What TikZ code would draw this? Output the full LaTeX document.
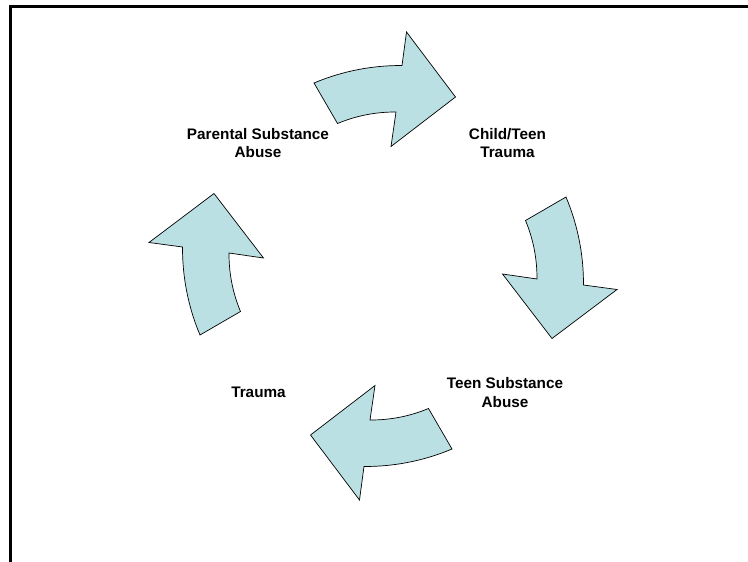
\documentclass[tikz,border=0pt]{standalone}
\usepackage{fontspec}
\setmainfont{Liberation Sans}
\definecolor{arrowfill}{RGB}{187,224,227}
\tikzset{
  cyclearrow/.style={draw=black, line width=0.7pt, fill=arrowfill, line join=miter},
  label/.style={inner sep=0pt, align=center, font=\bfseries\fontsize{15.3}{18.5}\selectfont},
  frameline/.style={draw=black, line width=2.6pt}
}
\newcommand{\cyclearrowpath}{%
  (-69,-183) .. controls (-40.9,-194.8) and (-11.5,-200.6) .. (19,-200.5)
  -- (23.5,-234) -- (72.5,-169) -- (8,-119.5) -- (13,-154)
  .. controls (-7.3,-154.1) and (-26.8,-150.3) .. (-45.5,-142.5) -- cycle}
\begin{document}
\begin{tikzpicture}[x=1pt,y=-1pt]
\useasboundingbox (0,0) rectangle (748,562);
\coordinate (c) at (383,266);
\coordinate (fb) at (10.7,562);
\coordinate (ft) at (10.7,6.7);
\coordinate (fr) at (748,6.7);
\draw[frameline] (fb) -- (ft) -- (fr);
\foreach \ang in {0,-90,-180,-270}{
  \begin{scope}[shift={(c)}, rotate=\ang]
    \path[cyclearrow] \cyclearrowpath;
  \end{scope}
}
\node[label] (parent) at (258,143) {Parental Substance\\Abuse};
\node[label] (child) at (507.5,143) {Child/Teen\\Trauma};
\node[label] (teen) at (505,392.5) {Teen Substance\\Abuse};
\node[label] (trauma) at (258.5,392) {Trauma};
\end{tikzpicture}
\end{document}
